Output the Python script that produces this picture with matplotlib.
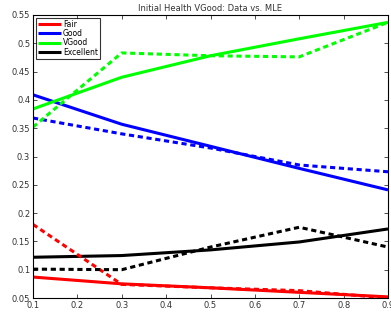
import matplotlib
matplotlib.use("Agg")
import matplotlib.pyplot as plt

x = [0.1, 0.3, 0.5, 0.7, 0.9]
labels = ["Fair", "Good", "VGood", "Excellent"]
colors = ["#ff0000", "#0000ff", "#00ff00", "#000000"]
mle = {
    "Fair": [0.087, 0.075, 0.068, 0.060, 0.052],
    "Good": [0.409, 0.357, 0.318, 0.279, 0.241],
    "VGood": [0.384, 0.440, 0.478, 0.508, 0.537],
    "Excellent": [0.122, 0.125, 0.135, 0.149, 0.172],
}
data = {
    "Fair": [0.180, 0.074, 0.068, 0.063, 0.050],
    "Good": [0.368, 0.340, 0.315, 0.285, 0.273],
    "VGood": [0.352, 0.483, 0.478, 0.476, 0.537],
    "Excellent": [0.101, 0.100, 0.140, 0.175, 0.140],
}
xticks = [0.1, 0.2, 0.3, 0.4, 0.5, 0.6, 0.7, 0.8, 0.9]
yticks = [0.05, 0.1, 0.15, 0.2, 0.25, 0.3, 0.35, 0.4, 0.45, 0.5, 0.55]

fig = plt.figure(figsize=(3.91, 3.13), dpi=100)
ax = fig.add_axes([33/391, 15/313, 355/391, 283/313])
for lab, c in zip(labels, colors):
    ax.plot(x, mle[lab], color=c, lw=2.2, label=lab, solid_capstyle="butt")
for lab, c in zip(labels, colors):
    ax.plot(x, data[lab], color=c, lw=2.2, ls=(0, (1.7, 1.2)))
ax.set_xlim(0.1, 0.9)
ax.set_ylim(0.05, 0.55)
ax.set_xticks(xticks)
ax.set_yticks(yticks)
ax.set_xticklabels([f"{v:g}" for v in xticks])
ax.set_yticklabels([f"{v:g}" for v in yticks])
ax.tick_params(direction="in", labelsize=6, length=3, width=0.6, top=True, right=True, pad=2, colors="#333333", labelcolor="#333333")
for s in ax.spines.values():
    s.set_linewidth(0.8)
ax.set_title("Initial Health VGood: Data vs. MLE", fontsize=6, pad=3, color="#333333")
leg = ax.legend(loc="upper left", fontsize=5.5, frameon=True, fancybox=False,
                edgecolor="black", handlelength=3.0, handletextpad=0.3,
                borderpad=0.25, labelspacing=0.05, borderaxespad=0.35)
leg.get_frame().set_linewidth(0.8)
fig.savefig("out.png", dpi=100)
